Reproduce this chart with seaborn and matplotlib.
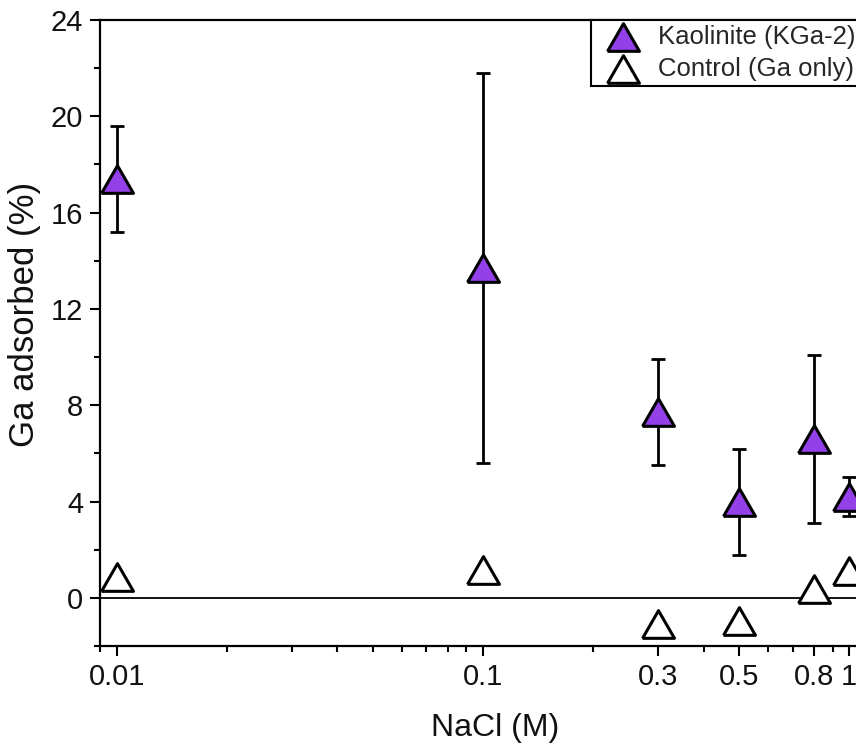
import numpy as np
import matplotlib
matplotlib.use("Agg")
import matplotlib.pyplot as plt
import seaborn as sns

# NaCl concentration (M)
nacl = [0.01, 0.1, 0.3, 0.5, 0.8, 1.0]
# Ga adsorbed (%) with kaolinite, and error
kaolinite = [17.4, 13.7, 7.7, 4.0, 6.6, 4.2]
kaolinite_err = [2.2, 8.1, 2.2, 2.2, 3.5, 0.8]
# control (Ga only)
control = [0.85, 1.15, -1.1, -0.95, 0.35, 1.1]

x_ticks = [0.01, 0.1, 0.3, 0.5, 0.8, 1]
x_ticklabels = ["0.01", "0.1", "0.3", "0.5", "0.8", "1"]
y_ticks = [0, 4, 8, 12, 16, 20, 24]

PURPLE = "#9440e8"
TRI = [(-1, -0.866), (1, -0.866), (0, 0.866), (-1, -0.866)]

sns.set_theme(style="ticks")
plt.rcParams["font.family"] = ["Liberation Sans", "DejaVu Sans"]

fig = plt.figure(figsize=(8.56, 7.47), dpi=100)
ax = fig.add_axes([100 / 856, 101 / 747, 791 / 856, 626 / 747])

ax.axhline(0, color="black", lw=1.3, zorder=1)

ax.errorbar(nacl, kaolinite, yerr=kaolinite_err, fmt="none", ecolor="black",
            elinewidth=2, capsize=5, capthick=2, zorder=2)

sns.scatterplot(x=nacl, y=kaolinite, marker=TRI, s=23 ** 2, color=PURPLE,
                edgecolor="black", linewidth=2.2, ax=ax, zorder=3,
                label="Kaolinite (KGa-2)")
sns.scatterplot(x=nacl, y=control, marker=TRI, s=23 ** 2, color="white",
                edgecolor="black", linewidth=2.2, ax=ax, zorder=3,
                label="Control (Ga only)")

ax.set_xscale("log")
ax.set_xlim(0.009, 1.3)
ax.set_ylim(-2, 24)
ax.set_xticks(x_ticks)
ax.set_xticklabels(x_ticklabels)
ax.set_xticks([v * d for d in (0.01, 0.1) for v in range(2, 10)] + [0.009, 1.1, 1.2],
              minor=True)
ax.xaxis.set_minor_formatter(matplotlib.ticker.NullFormatter())
ax.set_yticks(y_ticks)
ax.set_yticks(np.arange(-2, 24, 2), minor=True)

ax.tick_params(which="major", length=7, width=1.5, labelsize=21, pad=5,
               color="black", labelcolor="#111111")
ax.tick_params(which="minor", length=4, width=1.5, color="black")
for sp in ax.spines.values():
    sp.set_linewidth(1.6)
    sp.set_color("black")

ax.set_xlabel("NaCl (M)", fontsize=23, labelpad=16, color="#111111")
ax.set_ylabel("Ga adsorbed (%)", fontsize=25, color="#111111")
ax.yaxis.set_label_coords(-0.075, 0.529)

leg = ax.legend(loc="upper left", bbox_to_anchor=(0.621, 1.0), borderaxespad=0,
                fontsize=18.5, frameon=True, fancybox=False, edgecolor="black",
                labelspacing=0.3, handletextpad=0.35, borderpad=0.2,
                handlelength=2.05)
leg.get_frame().set_linewidth(1.5)
leg.get_frame().set_alpha(1)

fig.savefig("out.png", dpi=100)
